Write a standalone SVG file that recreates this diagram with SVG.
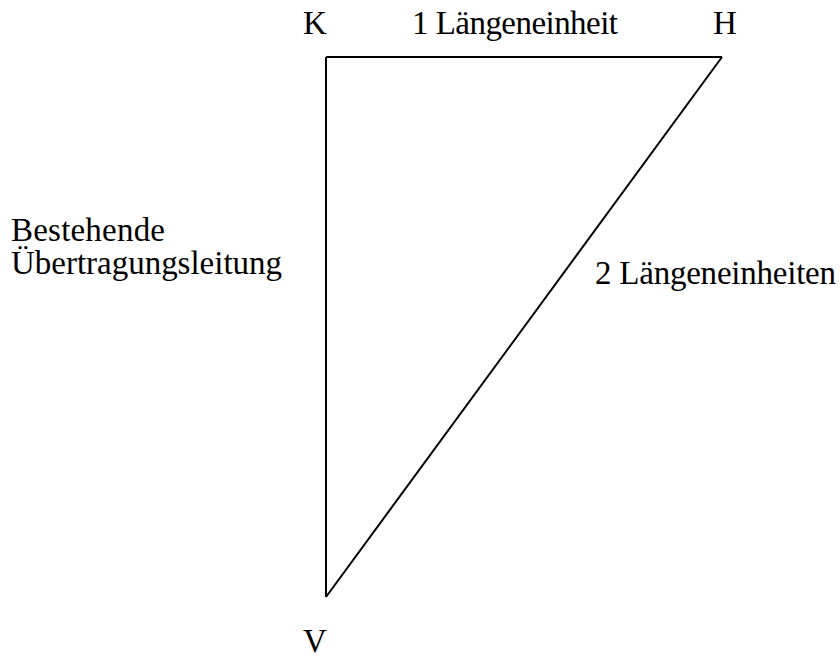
<svg xmlns="http://www.w3.org/2000/svg" width="840" height="659" viewBox="0 0 840 659">
<style>
.lbl{font-family:"Liberation Serif","Times New Roman",serif;font-size:33px;fill:#000}
.edge{fill:none;stroke:#000;stroke-width:2;stroke-linejoin:miter}
</style>
<rect width="840" height="659" fill="#fff"/>
<g id="connectors">
<line class="edge" x1="326" y1="57" x2="722" y2="57"/>
<line class="edge" x1="326" y1="57" x2="326" y2="597"/>
<line class="edge" x1="722" y1="57" x2="326" y2="597"/>
</g>
<g id="node-K"><text class="lbl" x="303" y="34">K</text></g>
<g id="node-H"><text class="lbl" x="713" y="34">H</text></g>
<g id="node-V"><text class="lbl" x="303" y="652">V</text></g>
<g id="label-KH"><text class="lbl" x="412" y="34" textLength="206">1 Längeneinheit</text></g>
<g id="label-KV"><text class="lbl" x="11" y="241" textLength="154">Bestehende</text><text class="lbl" x="11" y="274" textLength="271">Übertragungsleitung</text></g>
<g id="label-HV"><text class="lbl" x="595" y="284" textLength="241">2 Längeneinheiten</text></g>
</svg>
